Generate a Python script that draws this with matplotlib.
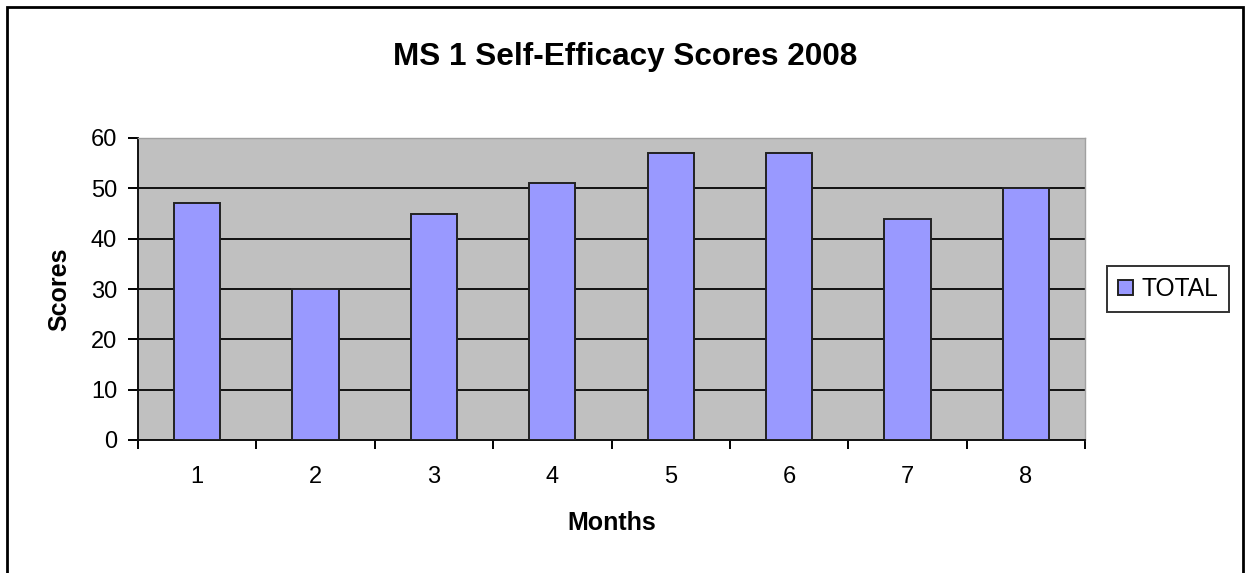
import matplotlib
matplotlib.use('Agg')
import matplotlib.pyplot as plt
import numpy as np

plt.rcParams['font.family'] = ['Liberation Sans', 'DejaVu Sans']

months = [1, 2, 3, 4, 5, 6, 7, 8]
total = [47, 30, 45, 51, 57, 57, 44, 50]

W, H = 1249, 573
fig = plt.figure(figsize=(W / 100, H / 100), dpi=100)
ax = fig.add_axes([138 / W, 133 / H, (1085 - 138) / W, 302 / H])

x = np.arange(len(months))
bars = ax.bar(x, total, width=0.39, color='#9999FF', edgecolor='#222222',
              linewidth=1.4, label='TOTAL', zorder=3)

ax.set_facecolor('#C0C0C0')
ax.set_xlim(-0.5, len(months) - 0.5)
ax.set_ylim(0, 60)
ax.set_yticks(np.arange(0, 61, 10))
ax.yaxis.grid(True, color='#111111', linewidth=1.4, zorder=1)
ax.set_axisbelow(True)

# category ticks between bars, labels centered
ax.set_xticks(np.arange(-0.5, len(months)), minor=False)
ax.set_xticklabels([])
ax.set_xticks(x, minor=True)
ax.set_xticklabels([str(m) for m in months], minor=True)
ax.tick_params(axis='x', which='major', direction='out', length=6.5, width=1.4)
ax.tick_params(axis='x', which='minor', length=0, pad=19, labelsize=17)
ax.tick_params(axis='y', direction='out', length=7, width=1.4, labelsize=17, pad=8)

for side in ['top', 'right']:
    ax.spines[side].set_color('#a0a0a0')
    ax.spines[side].set_linewidth(1)
for side in ['left', 'bottom']:
    ax.spines[side].set_color('#111111')
    ax.spines[side].set_linewidth(1.4)

ax.set_xlabel('Months', fontsize=18, fontweight='bold', labelpad=16)
ax.set_ylabel('Scores', fontsize=18, fontweight='bold', labelpad=14)
fig.text(625 / W, 1 - 57 / H, 'MS 1 Self-Efficacy Scores 2008', fontsize=22.7,
         fontweight='bold', ha='center', va='center')

leg = ax.legend(loc='center left', bbox_to_anchor=(1107 / W, 1 - 289 / H),
                bbox_transform=fig.transFigure, fontsize=17.7, frameon=True,
                fancybox=False, edgecolor='black', handlelength=0.6,
                handleheight=0.6, handletextpad=0.35, borderpad=0.45,
                borderaxespad=0)
leg.get_frame().set_linewidth(1.4)

fig.patches.append(plt.Rectangle((7 / W, -0.1), 1236 / W, 1.1 - 7 / H,
                                 transform=fig.transFigure, fill=False,
                                 edgecolor='black', linewidth=2))

fig.savefig('out.png', dpi=100)
